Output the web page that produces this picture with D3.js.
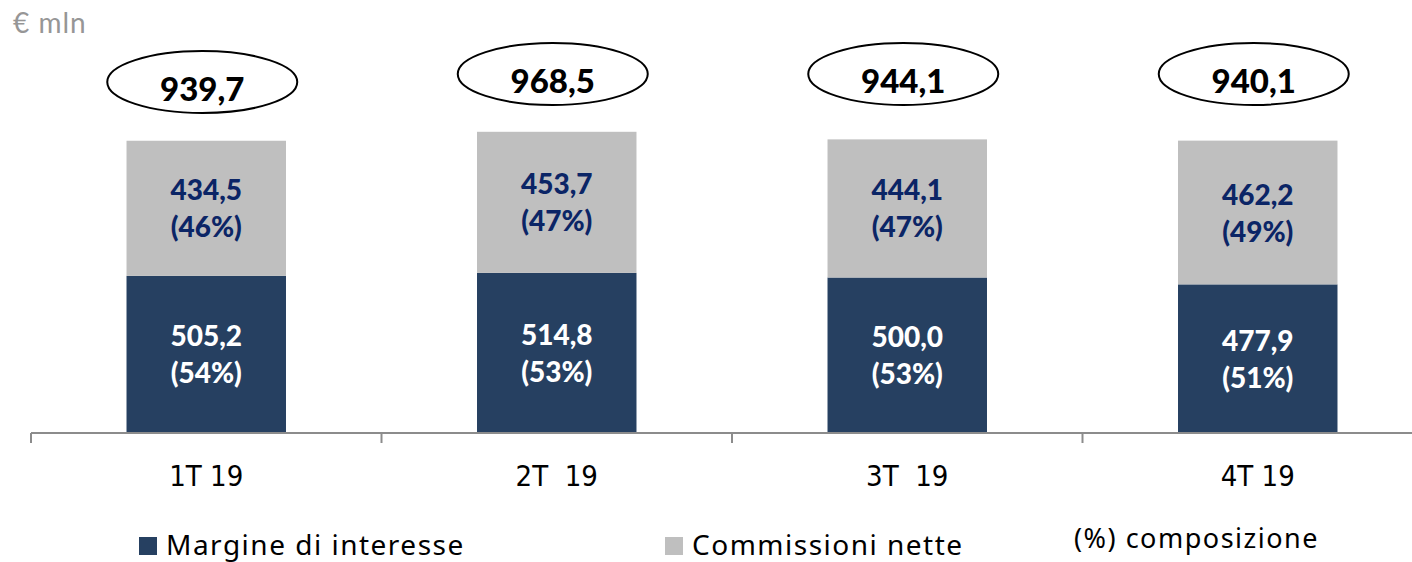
<!DOCTYPE html>
<html>
<head>
<meta charset="utf-8" />
<title>Margine e commissioni</title>
<script src="https://d3js.org/d3.v7.min.js"></script>
<style>
  body { margin: 0; background: #fff; }
  svg { display: block; }
  .cat { white-space: pre; }
</style>
</head>
<body>
<div id="chart"></div>
<script>
// data
var quarters = ["1T 19", "2T  19", "3T  19", "4T 19"];
var margine = [505.2, 514.8, 500.0, 477.9];
var commissioni = [434.5, 453.7, 444.1, 462.2];
var seriesNames = ["Margine di interesse", "Commissioni nette"];

var W = 1412, H = 562;
var navy = "#264061", grey = "#bfbfbf", labelBlue = "#0b2566";

var it = d3.formatLocale({decimal: ",", thousands: ".", grouping: [3], currency: ["€", ""]});
var fmt = it.format(".1f");

var rows = quarters.map(function(q, i) {
    var tot = margine[i] + commissioni[i];
    return {q: q, m: margine[i], c: commissioni[i], tot: tot};
});

var x = d3.scaleBand()
    .domain(quarters)
    .range([31, 31 + 4 * 350.5])
    .paddingInner(0.545)
    .paddingOuter(0.2725);

var y = d3.scaleLinear()
    .domain([0, 1000])
    .range([433, 122]);

var svg = d3.select("#chart").append("svg")
    .attr("width", W)
    .attr("height", H);

// unit label
svg.append("text")
    .attr("x", 13).attr("y", 33)
    .attr("font-family", "Lato, 'Noto Sans', sans-serif")
    .attr("font-size", 28)
    .attr("letter-spacing", 1)
    .attr("fill", "#969696")
    .text("€ mln");

// bars
var bw = x.bandwidth();
var g = svg.append("g");

g.selectAll(".m").data(rows).enter().append("rect")
    .attr("class", "m")
    .attr("x", function(d) { return x(d.q); })
    .attr("y", function(d) { return y(d.m); })
    .attr("width", bw)
    .attr("height", function(d) { return y(0) - y(d.m); })
    .attr("fill", navy);

g.selectAll(".c").data(rows).enter().append("rect")
    .attr("class", "c")
    .attr("x", function(d) { return x(d.q); })
    .attr("y", function(d) { return y(d.m + d.c); })
    .attr("width", bw)
    .attr("height", function(d) { return y(d.m) - y(d.m + d.c); })
    .attr("fill", grey);

// segment labels
function segLabel(cls, val, base, color) {
    var t = g.selectAll("." + cls).data(rows).enter().append("text")
        .attr("class", cls)
        .attr("text-anchor", "middle")
        .attr("font-family", "Lato, 'Noto Sans', sans-serif")
        .attr("font-weight", 900)
        .attr("font-size", 28)
        .attr("fill", color);
    t.append("tspan")
        .attr("x", function(d) { return x(d.q) + bw / 2; })
        .attr("y", function(d) { return (y(base(d)) + y(base(d) + val(d))) / 2 - 8; })
        .text(function(d) { return fmt(val(d)); });
    t.append("tspan")
        .attr("x", function(d) { return x(d.q) + bw / 2; })
        .attr("y", function(d) { return (y(base(d)) + y(base(d) + val(d))) / 2 + 29; })
        .text(function(d) { return "(" + Math.round(val(d) / d.tot * 100) + "%)"; });
}
segLabel("ml", function(d) { return d.m; }, function(d) { return 0; }, "#ffffff");
segLabel("cl", function(d) { return d.c; }, function(d) { return d.m; }, labelBlue);

// totals in ellipses
var ellDy = [8, 0, 0, 0];
var tg = svg.selectAll(".tot").data(rows).enter().append("g")
    .attr("class", "tot")
    .attr("transform", function(d, i) {
        return "translate(" + (x(d.q) + bw / 2 - 4) + "," + (74 + ellDy[i]) + ")";
    });
tg.append("ellipse")
    .attr("rx", 95).attr("ry", 31)
    .attr("fill", "#fff")
    .attr("stroke", "#000")
    .attr("stroke-width", 2);
tg.append("text")
    .attr("y", 19)
    .attr("text-anchor", "middle")
    .attr("font-family", "Lato, 'Noto Sans', sans-serif")
    .attr("font-weight", 900)
    .attr("font-size", 33)
    .attr("fill", "#000")
    .text(function(d) { return fmt(d.tot); });

// category axis
var ax = svg.append("g").attr("stroke", "#8c8c8c").attr("stroke-width", 2);
ax.append("line")
    .attr("x1", 31).attr("x2", W)
    .attr("y1", y(0)).attr("y2", y(0));
ax.selectAll(".tick").data(quarters).enter().append("line")
    .attr("x1", function(d) { return x(d) - x.step() * x.paddingInner() / 2; })
    .attr("x2", function(d) { return x(d) - x.step() * x.paddingInner() / 2; })
    .attr("y1", y(0)).attr("y2", y(0) + 10);

svg.selectAll(".cat").data(quarters).enter().append("text")
    .attr("class", "cat")
    .attr("x", function(d) { return x(d) + bw / 2; })
    .attr("y", 486)
    .attr("text-anchor", "middle")
    .attr("font-family", "'DejaVu Sans Condensed', 'Noto Sans', sans-serif")
    .attr("font-size", 29)
    .attr("fill", "#000")
    .text(function(d) { return d; });

// legend
var legX = [139, 665];
var leg = svg.selectAll(".leg").data(seriesNames).enter().append("g")
    .attr("class", "leg")
    .attr("transform", function(d, i) { return "translate(" + legX[i] + ",537)"; });
leg.append("rect")
    .attr("width", 18).attr("height", 18)
    .attr("fill", function(d, i) { return i === 0 ? navy : grey; });
leg.append("text")
    .attr("x", 27).attr("y", 18)
    .attr("font-family", "'Noto Sans', sans-serif")
    .attr("font-size", 28)
    .attr("letter-spacing", 1.5)
    .attr("fill", "#000")
    .text(function(d) { return d; });

svg.append("text")
    .attr("x", 1074).attr("y", 548)
    .attr("font-family", "'Noto Sans', sans-serif")
    .attr("font-size", 27)
    .attr("letter-spacing", 1.5)
    .attr("fill", "#000")
    .text("(%) composizione");
</script>
</body>
</html>
